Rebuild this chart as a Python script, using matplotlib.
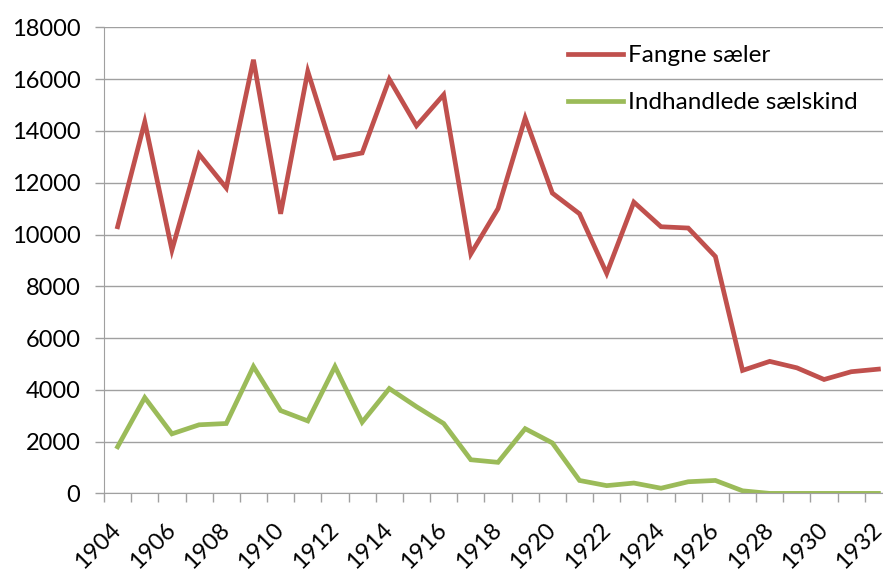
import numpy as np
import matplotlib
matplotlib.use("Agg")
import matplotlib.pyplot as plt

plt.rcParams['font.family'] = ['Lato', 'DejaVu Sans']

years = list(range(1904, 1933))
fangne = [10300, 14350, 9400, 13100, 11800, 16750, 10800, 16300, 12950, 13150,
          16000, 14200, 15400, 9250, 11000, 14500, 11600, 10800, 8500, 11250,
          10300, 10250, 9150, 4750, 5100, 4850, 4400, 4700, 4800]
skind = [1800, 3700, 2300, 2650, 2700, 4900, 3200, 2800, 4900, 2750,
         4050, 3350, 2700, 1300, 1200, 2500, 1950, 500, 300, 400,
         200, 450, 500, 100, 0, 0, 0, 0, 0]
labels = ["Fangne sæler", "Indhandlede sælskind"]
colors = ["#C0504D", "#9BBB59"]

fig = plt.figure(figsize=(8.83, 5.74), dpi=100)
ax = fig.add_axes([104 / 883, 80.6 / 574, 788 / 883, 466 / 574])

xs = np.arange(len(years))
ax.plot(xs, fangne, color=colors[0], lw=3.4, label=labels[0], solid_joinstyle='miter')
ax.plot(xs, skind, color=colors[1], lw=3.4, label=labels[1], solid_joinstyle='miter')

ax.set_xlim(-0.5, len(years) - 0.5)
ax.set_ylim(0, 18000)
ax.set_yticks(np.arange(0, 18001, 2000))
ax.grid(axis='y', color='#A0A0A0', lw=1)
ax.set_axisbelow(True)

ax.set_xticks(xs[::2])
ax.set_xticklabels([str(y) for y in years[::2]], rotation=45, ha='right',
                   va='center', rotation_mode='anchor')
ax.set_xticks(np.arange(-0.5, len(years)), minor=True)
ax.tick_params(axis='x', which='major', length=0, pad=24, labelsize=17)
ax.tick_params(axis='x', which='minor', length=6.5, width=1, color='#A0A0A0')
ax.tick_params(axis='y', length=6.5, width=1, color='#A0A0A0', pad=10.5, labelsize=17)

for s in ['top', 'right']:
    ax.spines[s].set_visible(False)
for s in ['left', 'bottom']:
    ax.spines[s].set_color('#A0A0A0')

ax.legend(loc='upper left', bbox_to_anchor=(568 / 883, 1 - 45 / 574),
          bbox_transform=fig.transFigure, frameon=False, fontsize=17.5,
          handlelength=2.26, handletextpad=0.2, labelspacing=1.07,
          borderpad=0, borderaxespad=0)

fig.savefig("out.png", dpi=100)
